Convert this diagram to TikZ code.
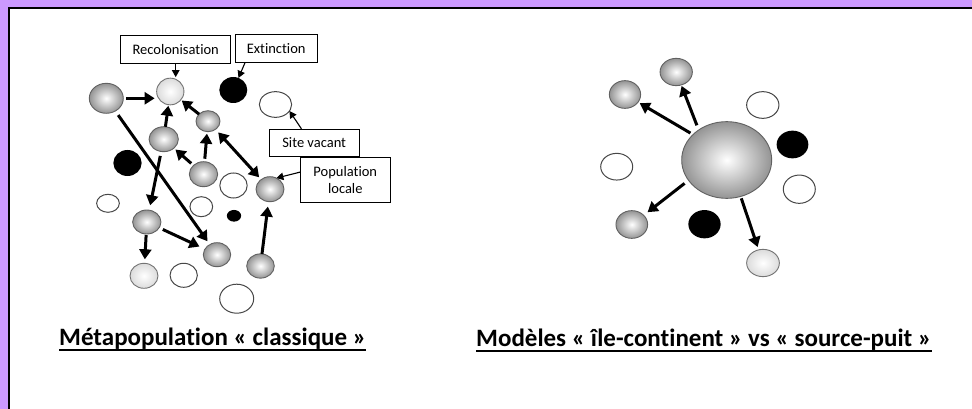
\documentclass[tikz,border=0pt]{standalone}
\usepackage{fontspec}
\setmainfont{Carlito}[Ligatures={NoCommon}]
\usetikzlibrary{shapes.geometric,arrows.meta,calc}
\definecolor{purp}{RGB}{204,153,255}
\begin{document}
\begin{tikzpicture}[x=1pt,y=-1pt,
  sz/.style 2 args={minimum width=#1pt,minimum height=#2pt},
  circ/.style={ellipse,inner sep=0pt,outer sep=0pt},
  ball/.style={circ,draw=black!62,line width=0.9pt,inner color=white,outer color=black!42},
  light/.style={circ,draw=black!55,line width=0.9pt,inner color=white,outer color=black!14},
  vac/.style={circ,draw=black!72,line width=1pt,fill=white},
  ext/.style={circ,fill=black},
  lbl/.style={draw,line width=0.8pt,fill=white,font=\fontsize{14.5}{17.5}\selectfont,inner sep=0pt,align=center},
  big/.style={-{Triangle[length=10pt,width=12pt]},line width=3pt},
  dbl/.style={{Triangle[length=10pt,width=12pt]}-{Triangle[length=10pt,width=12pt]},line width=3pt},
  thin/.style={-{Triangle[length=7pt,width=7.5pt]},line width=1.1pt},
  title/.style={inner sep=0pt,font=\fontsize{25}{30}\selectfont\bfseries}
]
\useasboundingbox (0,0) rectangle (972,409);
\fill[purp] (0,0) rectangle (972,409);
\fill[white] (8.5,8) rectangle (972,409);
\draw[line width=2pt] (8.5,409) -- (8.5,8) -- (972,8);

% ---------- left: classic metapopulation ----------
\node[ball,sz={34}{30}]    (nA)   at (106.3,98.3) {};
\node[light,sz={27.3}{26.7}] (nRec) at (170.3,91.5) {};
\node[ext,sz={28}{26}]     (nExt) at (233.3,90) {};
\node[vac,sz={32.3}{25.7}] (nV1)  at (275.5,104.5) {};
\node[ball,sz={24}{21}]    (nB)   at (208,121.2) {};
\node[ball,sz={29.3}{25}]  (nC)   at (163.7,139.2) {};
\node[ext,sz={28.3}{26}]   (nK1)  at (127.5,163) {};
\node[ball,sz={28.3}{25}]  (nD)   at (203.5,174.2) {};
\node[ball,sz={28}{25}]    (nE)   at (270,189.2) {};
\node[vac,sz={22.7}{18}]   (nW1)  at (108,203.3) {};
\node[vac,sz={27.4}{25}]   (nW2)  at (233.5,185.5) {};
\node[vac,sz={22.7}{20}]   (nW3)  at (201.3,206.7) {};
\node[ext,sz={14.3}{11.7}] (nDot) at (234,215.8) {};
\node[ball,sz={28.3}{24}]  (nF)   at (146.8,222) {};
\node[ball,sz={27.4}{24}]  (nG)   at (217,254.7) {};
\node[ball,sz={27.6}{24.3}] (nI)  at (260.5,266) {};
\node[light,sz={28}{25}]   (nH)   at (144,275.8) {};
\node[vac,sz={27.3}{24}]   (nW4)  at (183.7,275.3) {};
\node[vac,sz={34}{29}]     (nW5)  at (236.7,298.7) {};

\draw[big,shorten <=3pt,shorten >=2pt] (nA.east) -- (nA.east -| nRec.west);
\draw[big,shorten >=1pt] (nC) -- (nRec);
\draw[big,shorten >=1pt] (nB) -- (nRec);
\draw[big,shorten <=3pt,shorten >=2pt] (nD) -- (nB);
\draw[big,shorten <=3pt,shorten >=2pt] (nD) -- (nC);
\draw[dbl,shorten <=4pt,shorten >=3pt] (nB) -- (nE);
\draw[big,shorten <=5pt,shorten >=4pt] (nA) -- (nG);
\draw[big,shorten <=4.5pt,shorten >=5pt] (nC) -- (nF);
\draw[big,shorten <=1pt,shorten >=4pt] (nF) -- (nH);
\draw[big,shorten <=4pt,shorten >=6pt] (nF) -- (nG);
\draw[big,shorten <=0pt,shorten >=5pt] (nI) -- (nE);

\node[lbl,sz={110}{28.3}] (recbox) at (175.7,49.2) {Recolonisation};
\node[lbl,sz={82.3}{28.3}] (extbox) at (276.2,48.2) {Extinction};
\node[lbl,sz={89.7}{27.4}] (svbox) at (314.2,143) {Site vacant};
\node[lbl,sz={89.3}{45.4}] (popbox) at (345.3,180) {Population\\locale};

\draw[thin,shorten >=1pt] (recbox.south) -- (recbox.south |- nRec.north);
\draw[thin] (extbox.205) -- (nExt);
\draw[thin] (svbox.132) -- (nV1.335);
\draw[thin] (popbox.170) -- (nE.60);

% ---------- right: island-continent / source-sink ----------
\node[ball,sz={90}{76.7}]   (nS)  at (726.7,160) {};
\node[ball,sz={32.3}{27.3}] (g1)  at (676.2,72) {};
\node[ball,sz={31.3}{27.7}] (g2)  at (625,94.5) {};
\node[vac,sz={32.3}{26.7}]  (wr1) at (762.8,105) {};
\node[ext,sz={31.7}{27.7}]  (kr1) at (792.5,144.5) {};
\node[vac,sz={32}{28.3}]    (wr2) at (799.3,189.2) {};
\node[vac,sz={32}{26.7}]    (wr3) at (616.7,166.7) {};
\node[ball,sz={31.7}{27.7}] (g3)  at (631.8,224.5) {};
\node[ext,sz={32.3}{28.3}]  (kr2) at (704.5,224.2) {};
\node[light,sz={32.7}{27.3}] (nL) at (763,263) {};

\draw[big,shorten <=5pt,shorten >=1pt] (nS.133) -- (g1);
\draw[big,shorten <=3pt,shorten >=2pt] (nS.143) -- (g2);
\draw[big,shorten <=5pt,shorten >=5pt] (nS.208) -- (g3);
\draw[big,shorten <=2pt,shorten >=3pt] (nS.291) -- (nL);

% ---------- titles ----------
\node[title,anchor=base west] (t1) at (59,345) {Métapopulation « classique »};
\node[title,anchor=base west] (t2) at (476,346) {Modèles « île-continent » vs « source-puit »};
\draw[line width=1.5pt] ($(t1.base west)+(0,5)$) -- ($(t1.base east)+(0,5)$);
\draw[line width=1.5pt] ($(t2.base west)+(0,5)$) -- ($(t2.base east)+(0,5)$);
\end{tikzpicture}
\end{document}
